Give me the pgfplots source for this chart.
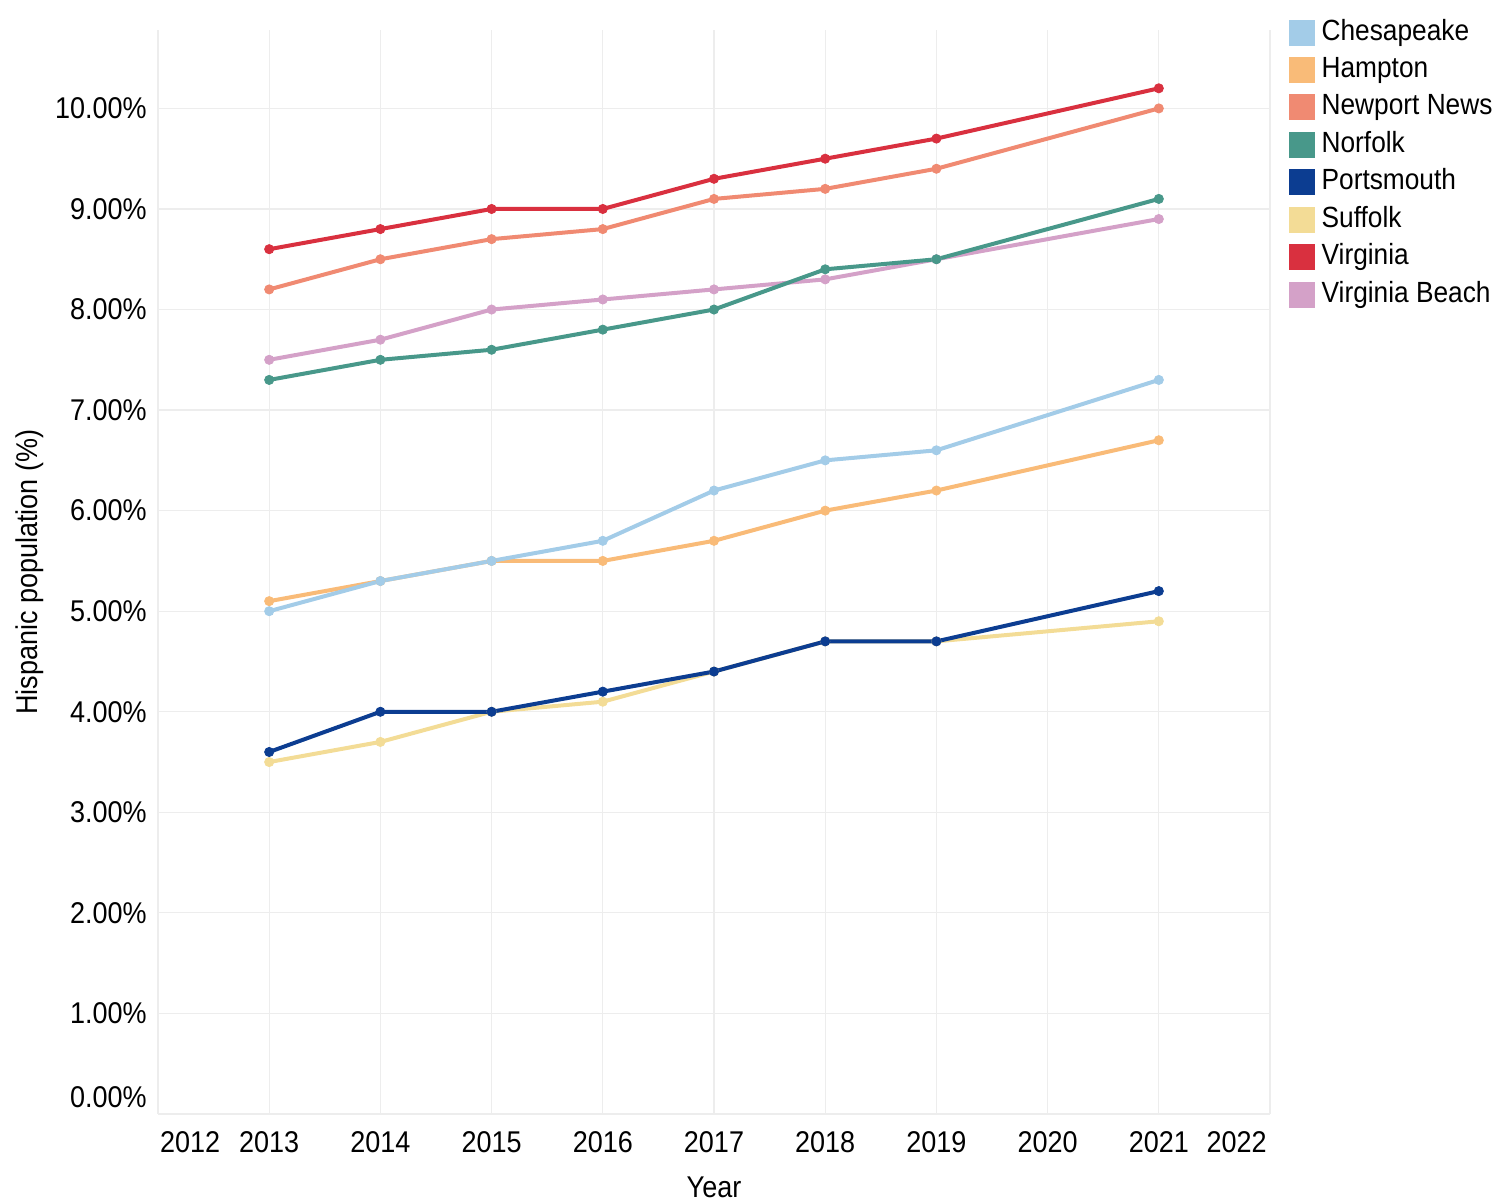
\documentclass[border=0pt]{standalone}
\usepackage{fontspec}
\setmainfont{Liberation Sans}[FakeStretch=0.9]
\usepackage{pgfplots}
\pgfplotsset{compat=1.18}
\definecolor{cChes}{HTML}{A3CCE8}
\definecolor{cHamp}{HTML}{F9BB78}
\definecolor{cNewp}{HTML}{F08A72}
\definecolor{cNorf}{HTML}{48988A}
\definecolor{cPort}{HTML}{0C3D91}
\definecolor{cSuff}{HTML}{F3DC96}
\definecolor{cVirg}{HTML}{D9303F}
\definecolor{cVBch}{HTML}{D4A1C8}
\definecolor{gridc}{HTML}{EDEDED}
\begin{document}
\begin{tikzpicture}
\begin{axis}[
  scale only axis, width=556pt, height=542pt,
  xmin=2012, xmax=2022, ymin=0, ymax=10.78,
  axis line style={draw=none},
  major tick length=0pt,
  grid=major, grid style={gridc, line width=0.6pt},
  xtick={2012,2013,2014,2015,2016,2017,2018,2019,2020,2021,2022},
  xticklabels={,2013,2014,2015,2016,2017,2018,2019,2020,2021,},
  extra x ticks={2012.29,2021.70},
  extra x tick labels={2012,2022},
  extra x tick style={grid=none},
  ytick={0,1,2,3,4,5,6,7,8,9,10},
  yticklabels={,1.00\%,2.00\%,3.00\%,4.00\%,5.00\%,6.00\%,7.00\%,8.00\%,9.00\%,10.00\%},
  extra y ticks={0.17},
  extra y tick labels={0.00\%},
  extra y tick style={grid=none},
  xticklabel style={font=\fontsize{15}{15}\selectfont, anchor=center, inner sep=0pt, yshift=-14pt},
  yticklabel style={font=\fontsize{15}{15}\selectfont, anchor=east, inner sep=0pt, xshift=-5.5pt},
  xlabel={Year}, ylabel={Hispanic population (\%)},
  xlabel style={font=\fontsize{15}{15}\selectfont, at={(axis description cs:0.5,-0.0680)}, anchor=center, inner sep=0pt},
  ylabel style={font=\fontsize{15}{15}\selectfont, at={(axis description cs:-0.1151,0.5)}, anchor=center, inner sep=0pt},
  every axis plot/.append style={line width=2pt, mark=*, mark size=2.3pt, mark options={line width=0.4pt}},
  reverse legend,
  legend cell align=left,
  legend style={at={(axis description cs:1.0110,1.0140)}, anchor=north west, draw=none, fill=none,
    font=\fontsize{14.6}{14.6}\selectfont,
    nodes={inner sep=0pt, text height=10.5pt, text depth=3pt},
    row sep=5.2pt, column sep=3.5pt},
  legend image code/.code={\fill[#1] (0pt,-5.5pt) rectangle (11pt,5.5pt);},
]
\addplot[cVBch] coordinates {(2013,7.5)(2014,7.7)(2015,8.0)(2016,8.1)(2017,8.2)(2018,8.3)(2019,8.5)(2021,8.9)};
\addlegendentry{Virginia Beach}
\addplot[cVirg] coordinates {(2013,8.6)(2014,8.8)(2015,9.0)(2016,9.0)(2017,9.3)(2018,9.5)(2019,9.7)(2021,10.2)};
\addlegendentry{Virginia}
\addplot[cSuff] coordinates {(2013,3.5)(2014,3.7)(2015,4.0)(2016,4.1)(2017,4.4)(2018,4.7)(2019,4.7)(2021,4.9)};
\addlegendentry{Suffolk}
\addplot[cPort] coordinates {(2013,3.6)(2014,4.0)(2015,4.0)(2016,4.2)(2017,4.4)(2018,4.7)(2019,4.7)(2021,5.2)};
\addlegendentry{Portsmouth}
\addplot[cNorf] coordinates {(2013,7.3)(2014,7.5)(2015,7.6)(2016,7.8)(2017,8.0)(2018,8.4)(2019,8.5)(2021,9.1)};
\addlegendentry{Norfolk}
\addplot[cNewp] coordinates {(2013,8.2)(2014,8.5)(2015,8.7)(2016,8.8)(2017,9.1)(2018,9.2)(2019,9.4)(2021,10.0)};
\addlegendentry{Newport News}
\addplot[cHamp] coordinates {(2013,5.1)(2014,5.3)(2015,5.5)(2016,5.5)(2017,5.7)(2018,6.0)(2019,6.2)(2021,6.7)};
\addlegendentry{Hampton}
\addplot[cChes] coordinates {(2013,5.0)(2014,5.3)(2015,5.5)(2016,5.7)(2017,6.2)(2018,6.5)(2019,6.6)(2021,7.3)};
\addlegendentry{Chesapeake}
\end{axis}
\pgfresetboundingbox
\path[use as bounding box] ([xshift=-79pt,yshift=-44.5pt]current axis.south west) rectangle ([xshift=114.5pt,yshift=15pt]current axis.north east);
\end{tikzpicture}
\end{document}
